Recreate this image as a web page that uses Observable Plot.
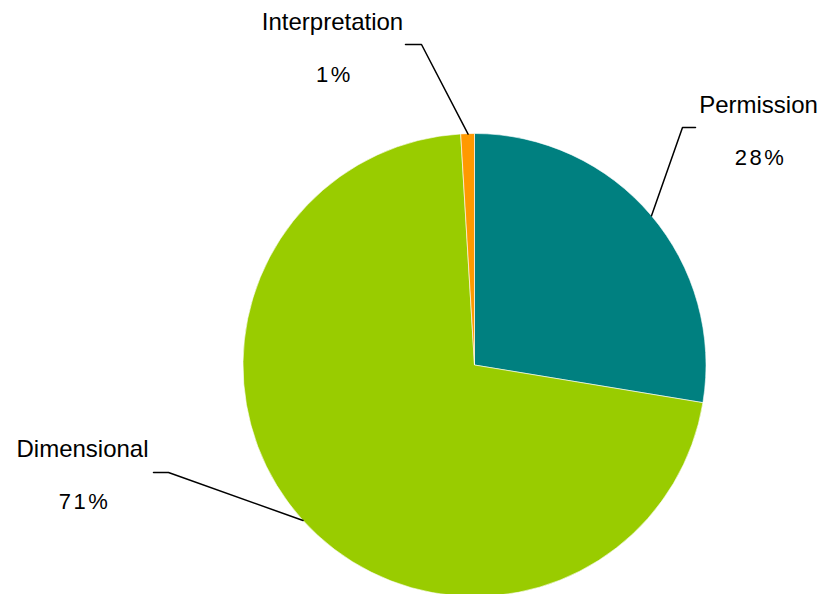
<!DOCTYPE html>
<html>
<head>
<meta charset="utf-8">
<script src="https://cdn.jsdelivr.net/npm/d3@7"></script>
<script src="https://cdn.jsdelivr.net/npm/@observablehq/plot@0.6"></script>
<style>
  html, body { margin: 0; padding: 0; background: #fff; }
  #chart { width: 824px; height: 594px; }
</style>
</head>
<body>
<div id="chart"></div>
<script>
// ---- data ----
const categories = ["Permission", "Dimensional", "Interpretation"];
const values = [27.6, 71.45, 0.95];
const colors = ["#008080", "#99CC00", "#FF9900"];

// ---- layout (pixels) ----
const W = 824, H = 594;
const cx = 474.5, cy = 365, R = 231.5;
const labelPos = [[758, 105], [82, 449], [332, 22]];   // label centre
const pctGap = 52;
const elbow = [[695, 127, 682], [153, 472, 168], [405, 44, 421]]; // [x0, y, x1]

const pie = d3.pie().sort(null).value(d => d.value);
const data = categories.map((c, i) => ({category: c, value: values[i], color: colors[i]}));
const arcs = pie(data);

// anchor points on the pie edge, at each slice's middle angle
const anchors = arcs.map(a => {
  const m = (a.startAngle + a.endAngle) / 2;
  return [cx + R * Math.sin(m), cy - R * Math.cos(m)];
});

const leaders = [];
arcs.forEach((a, i) => {
  const [x0, y, x1] = elbow[i];
  leaders.push({k: i, x: x0, y: y}, {k: i, x: x1, y: y}, {k: i, x: anchors[i][0], y: anchors[i][1]});
});

const labels = data.map((d, i) => ({text: d.category, x: labelPos[i][0], y: labelPos[i][1]}));
const pcts = data.map((d, i) => ({text: Math.round(d.value) + "%", x: labelPos[i][0] + 2, y: labelPos[i][1] + pctGap}));

const slices = (index, scales) => {
  const g = d3.create("svg:g");
  const arc = d3.arc().innerRadius(0).outerRadius(scales.x(cx + R) - scales.x(cx));
  g.attr("transform", `translate(${scales.x(cx)},${scales.y(cy)})`)
    .selectAll("path").data(arcs).join("path")
    .attr("d", arc)
    .attr("fill", d => d.data.color)
    .attr("stroke", "#fff")
    .attr("stroke-width", 0.6);
  return g.node();
};

const chart = Plot.plot({
  width: W, height: H,
  margin: 0,
  x: {domain: [0, W], range: [0, W], axis: null},
  y: {domain: [0, H], range: [0, H], axis: null},
  style: {background: "#fff", fontFamily: "'Liberation Sans', Arial, sans-serif"},
  marks: [
    slices,
    Plot.line(leaders, {x: "x", y: "y", z: "k", stroke: "#000", strokeWidth: 1.5, curve: "linear"}),
    Plot.text(labels, {x: "x", y: "y", text: "text", fontSize: 24, fill: "#000", textAnchor: "middle"}),
    Plot.text(pcts, {x: "x", y: "y", text: "text", fontSize: 22, fill: "#000", textAnchor: "middle"})
  ]
});
const textGroups = chart.querySelectorAll('g[aria-label="text"]');
if (textGroups.length > 1) textGroups[1].setAttribute("letter-spacing", "2.5");
document.getElementById("chart").appendChild(chart);
</script>
</body>
</html>
